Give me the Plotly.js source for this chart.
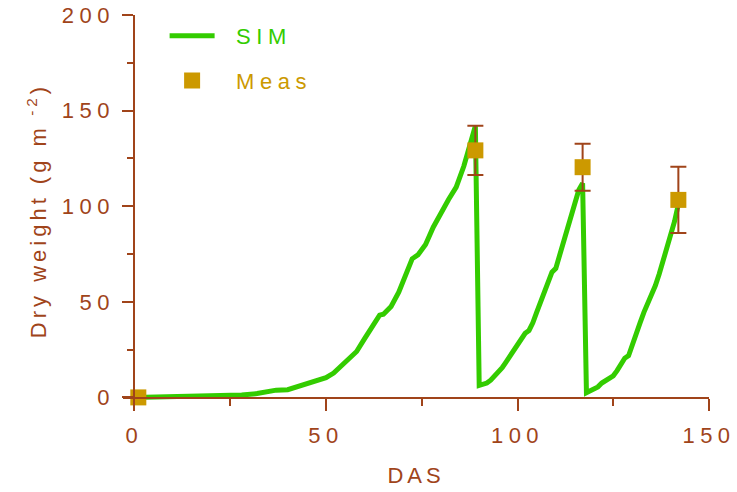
<!DOCTYPE html>
<html>
<head>
<meta charset="utf-8">
<script src="https://cdn.plot.ly/plotly-3.0.1.min.js"></script>
<style>
  html, body { margin: 0; padding: 0; background: #fff; }
  #chart { width: 737px; height: 492px; }
  svg text { letter-spacing: 5.5px; }
  svg text.legendtext { letter-spacing: 5.5px; }
  svg text.xtitle, svg text.ytitle { letter-spacing: 4px; }
</style>
</head>
<body>
<div id="chart"></div>
<script>
// Simulated dry weight (SIM), day after sowing
const simDAS = [0, 5, 10, 15, 20, 25, 28, 32, 35, 37, 40, 43, 46, 48, 50, 52, 54, 56, 58, 60, 62, 64, 65, 67, 69, 71, 72.5, 74, 76, 78, 80, 82, 84, 85, 86, 87, 88, 89,
  90, 91, 92, 93, 94, 95, 96, 97, 98, 99, 100, 101, 102, 103, 104, 105, 106, 107, 108, 109, 110, 111, 112, 113, 114, 115, 116, 117,
  118, 119, 120, 121, 122, 123, 124, 125, 126, 127, 128, 129, 130, 131, 132, 133, 134, 135, 136, 137, 138, 139, 140, 141, 142];
const simDW = [0, 0.1, 0.2, 0.3, 0.5, 0.8, 1.2, 2.0, 3.3, 3.8, 4.0, 5.8, 7.5, 8.8, 10.3, 12.7, 16.5, 20.5, 24, 30.5, 37, 43, 43.5, 47.6, 55, 65, 72.5, 74.5, 80, 89, 96.5, 103.5, 110, 115, 121, 128, 135, 142,
  6.3, 7, 7.5, 9, 11, 13, 15.5, 18.5, 21.5, 24, 26.5, 30, 33.5, 35, 39, 44.5, 50, 55, 60.5, 65.5, 67.5, 74, 81, 88, 95, 102, 108.5, 112,
  2.5, 3.5, 4.5, 5.5, 7.5, 8.8, 10, 11.3, 14, 17.5, 20.5, 21.8, 27, 33, 39, 44.5, 49, 53.5, 58.5, 64.5, 71, 77.5, 85, 92, 101];

// Measured dry weight (Meas) with error
const measDAS = [1, 89, 117, 142];
const measDW = [0, 129.2, 120.4, 103.3];
const measErr = [0, 12.9, 12.3, 17.3];

// Axis ticks
const xTicks = [0, 50, 100, 150];
const yTicks = [0, 50, 100, 150, 200];

const brown = '#a0441a';
const green = '#33cc00';
const gold = '#cc9900';
const GAP = '\u2002';

const traces = [
  {
    x: simDAS, y: simDW, type: 'scatter', mode: 'lines',
    name: '<span style="color:' + green + '">' + GAP + 'SIM</span>',
    line: { color: green, width: 5 },
    legendgroup: 'a'
  },
  {
    x: measDAS, y: measDW, type: 'scatter', mode: 'markers',
    name: '<span style="color:' + gold + '">' + GAP + 'Meas</span>',
    marker: { symbol: 'square', size: 16, color: gold },
    error_y: { type: 'data', array: measErr, visible: true, color: brown, thickness: 2, width: 8 },
    legendgroup: 'b'
  }
];

const axisFont = { family: 'Liberation Sans, Arial, sans-serif', size: 22, color: brown };

const layout = {
  width: 737, height: 492,
  margin: { l: 122.5, r: 27.7, t: 15, b: 86.4 },
  paper_bgcolor: '#fff', plot_bgcolor: '#fff',
  showlegend: true,
  legend: {
    x: 0.071, y: 1.0, xanchor: 'left', yanchor: 'top',
    bgcolor: 'rgba(0,0,0,0)', borderwidth: 0,
    font: { family: 'Liberation Sans, Arial, sans-serif', size: 22 },
    traceorder: 'grouped', tracegroupgap: 13, itemwidth: 45
  },
  xaxis: {
    range: [-3, 150], anchor: 'free', position: 4.5 / 204.5,
    showgrid: false, zeroline: false,
    showline: true, linecolor: brown, linewidth: 1.5,
    tickmode: 'array', tickvals: xTicks, ticktext: xTicks.map(String),
    ticks: 'outside', ticklen: 12, tickwidth: 2, tickcolor: brown,
    minor: { dtick: 25, tick0: 0, ticks: 'outside', ticklen: 7, tickwidth: 2, tickcolor: brown },
    tickfont: axisFont, ticklabelstandoff: 6, ticklabeloverflow: 'allow',
    title: { text: 'DAS', font: axisFont, standoff: 20 }
  },
  yaxis: {
    range: [-4.5, 200], anchor: 'free', position: 3 / 153,
    showgrid: false, zeroline: false,
    showline: true, linecolor: brown, linewidth: 2,
    tickmode: 'array', tickvals: yTicks, ticktext: yTicks.map(String),
    ticks: 'outside', ticklen: 11, tickwidth: 2, tickcolor: brown,
    minor: { dtick: 25, tick0: 0, ticks: 'outside', ticklen: 6, tickwidth: 2, tickcolor: brown },
    tickfont: axisFont, ticklabelstandoff: 3, ticklabeloverflow: 'allow',
    title: { text: 'Dry weight (g m<sup> -2</sup>)', font: axisFont, standoff: 8 }
  }
};

Plotly.newPlot('chart', traces, layout, { displayModeBar: false, staticPlot: true });
</script>
</body>
</html>
